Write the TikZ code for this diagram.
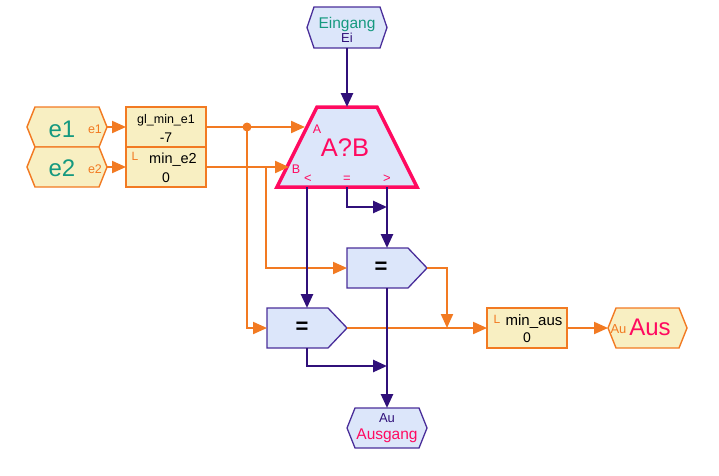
\documentclass[tikz,border=0pt]{standalone}
\usepackage{fontspec}
\setmainfont{Liberation Sans}
\usetikzlibrary{arrows.meta,calc}
\definecolor{cOr}{HTML}{F27A22}
\definecolor{cPu}{HTML}{30107A}
\definecolor{cPuB}{HTML}{4A2E9A}
\definecolor{cPk}{HTML}{FF0A60}
\definecolor{cTl}{HTML}{15997F}
\definecolor{cYe}{HTML}{F8EFC2}
\definecolor{cBl}{HTML}{DCE6FA}
\newcommand\hexdraw[3]{\draw[#3] (#1.west) -- ($(#1.north west)+(#2,0)$) -- ($(#1.north east)+(-#2,0)$) -- (#1.east) -- ($(#1.south east)+(-#2,0)$) -- ($(#1.south west)+(#2,0)$) -- cycle;}
\newcommand\pentdraw[3]{\draw[#3] (#1.north west) -- ($(#1.north east)+(-#2,0)$) -- (#1.east) -- ($(#1.south east)+(-#2,0)$) -- (#1.south west) -- cycle;}
\newcommand\trapdraw[3]{\draw[#3] (#1.south west) -- ($(#1.north west)+(#2,0)$) -- ($(#1.north east)+(-#2,0)$) -- (#1.south east) -- cycle;}
\newcommand\fs[1]{\fontsize{#1}{#1}\selectfont}
\begin{document}
\begin{tikzpicture}[x=1pt,y=-1pt,
  frame/.style={minimum width=80pt,minimum height=40pt,inner sep=0pt,outer sep=0pt},
  lbl/.style={inner sep=0pt,outer sep=0pt,anchor=base},
  yel/.style={fill=cYe,draw=cOr,line width=1.4pt,line join=miter},
  blu/.style={fill=cBl,draw=cPuB,line width=1.3pt},
  ow/.style={draw=cOr,line width=2.1pt},
  pw/.style={draw=cPu,line width=2.6pt},
  tip/.style={-{Triangle[length=14pt,width=12pt]}}]
\useasboundingbox (0,0) rectangle (719,475);

% shape frames
\node[frame] (e1) at (67,127) {};
\node[frame] (e2) at (67,167) {};
\node[frame] (glmin) at (166,127) {};
\node[frame] (mine2) at (166,167) {};
\node[frame,minimum height=41pt] (ein) at (347,27.5) {};
\node[frame,minimum width=140pt,minimum height=80pt] (ab) at (347,147) {};
\node[frame] (cmpa) at (387,268) {};
\node[frame] (cmpb) at (307,328) {};
\node[frame] (minaus) at (527,328) {};
\node[frame,minimum width=79pt] (aus) at (647.5,328) {};
\node[frame] (ausg) at (387,428) {};

% shapes
\hexdraw{e1}{8}{yel}
\hexdraw{e2}{8}{yel}
\draw[yel] (glmin.north west) rectangle (glmin.south east);
\draw[yel] (mine2.north west) rectangle (mine2.south east);
\draw[yel] (minaus.north west) rectangle (minaus.south east);
\hexdraw{aus}{8}{yel}
\hexdraw{ein}{7}{blu}
\hexdraw{ausg}{8}{blu}
\pentdraw{cmpa}{19}{blu}
\pentdraw{cmpb}{19}{blu}
\trapdraw{ab}{40}{fill=cBl,draw=cPk,line width=3.5pt,line join=miter}

% named points
\coordinate (j1) at (247,127);
\coordinate (j2) at (266,167);
\coordinate (inA) at (305,127);
\coordinate (inB) at (289,167);
\coordinate (j3) at (447,328);
\coordinate (oLt) at ($(ab.south)+(-40,0)$);
\coordinate (oEq) at (ab.south);
\coordinate (oGt) at ($(ab.south)+(40,0)$);
\coordinate (j4) at (387,207);
\coordinate (j5) at (387,366);

% orange wires
\draw[ow,tip] (e1.east) -- (glmin.west);
\draw[ow,tip] (e2.east) -- (mine2.west);
\draw[ow,tip] (glmin.east) -- (inA);
\draw[ow,tip] (mine2.east) -- (inB);
\draw[ow,tip] (j1) |- (cmpb.west);
\draw[ow,tip] (j2) |- (cmpa.west);
\draw[ow,tip] (cmpa.east) -| (j3);
\draw[ow,tip] (cmpb.east) -- (minaus.west);
\draw[ow,tip] (minaus.east) -- (aus.west);
\fill[cOr] (j1) circle[radius=4.5];

% purple wires
\draw[pw,tip] (ein.south) -- (ab.north);
\draw[pw,tip] (oLt) -- (cmpb.north);
\draw[pw,tip] (oGt) -- (cmpa.north);
\draw[pw,tip] (oEq) |- (j4);
\draw[pw,tip] (cmpa.south) -- (ausg.north);
\draw[pw,tip] (cmpb.south) |- (j5);

% texts
\node[lbl,text=cTl] (e1t) at (62,137) {\fs{24}e1};
\node[lbl,text=cOr] (e1s) at (95,133) {\fs{12.5}e1};
\node[lbl,text=cTl] (e2t) at (62,176.5) {\fs{24}e2};
\node[lbl,text=cOr] (e2s) at (95,173) {\fs{12.5}e2};
\node[lbl] (glt) at (166,123) {\fs{12.5}gl\_min\_e1};
\node[lbl] (glv) at (166,142) {\fs{14}-7};
\node[lbl,text=cOr] (e2L) at (135,160) {\fs{12}L};
\node[lbl] (me2t) at (173,163) {\fs{14.5}min\_e2};
\node[lbl] (me2v) at (166,182.5) {\fs{14}0};
\node[lbl,text=cTl] (eint) at (347,28.3) {\fs{15.5}Eingang};
\node[lbl,text=cPu] (eiv) at (347,42.7) {\fs{13}Ei};
\node[lbl,text=cPk] (abt) at (345,156) {\fs{25.5}A?B};
\node[lbl,text=cPk] (abA) at (317,133) {\fs{12.5}A};
\node[lbl,text=cPk] (abB) at (296,173) {\fs{12.5}B};
\node[text=cPk,inner sep=0pt] (abl) at (308,179) {\fs{13}<};
\node[text=cPk,inner sep=0pt] (abe) at (347,179) {\fs{13}=};
\node[text=cPk,inner sep=0pt] (abg) at (387,179) {\fs{13}>};
\node[inner sep=0pt] (cmpat) at (381,268) {\fs{22}\bfseries =};
\node[inner sep=0pt] (cmpbt) at (302,328) {\fs{22}\bfseries =};
\node[lbl,text=cOr] (maL) at (497,323) {\fs{12}L};
\node[lbl] (mat) at (534,325) {\fs{15}min\_aus};
\node[lbl] (mav) at (527,342.5) {\fs{14}0};
\node[lbl,text=cOr] (ausAu) at (618.5,333) {\fs{13}Au};
\node[lbl,text=cPk] (aust) at (650,335) {\fs{24}Aus};
\node[lbl,text=cPu] (ausgAu) at (387,422) {\fs{13}Au};
\node[lbl,text=cPk] (ausgt) at (387,439) {\fs{15.5}Ausgang};
\end{tikzpicture}
\end{document}
